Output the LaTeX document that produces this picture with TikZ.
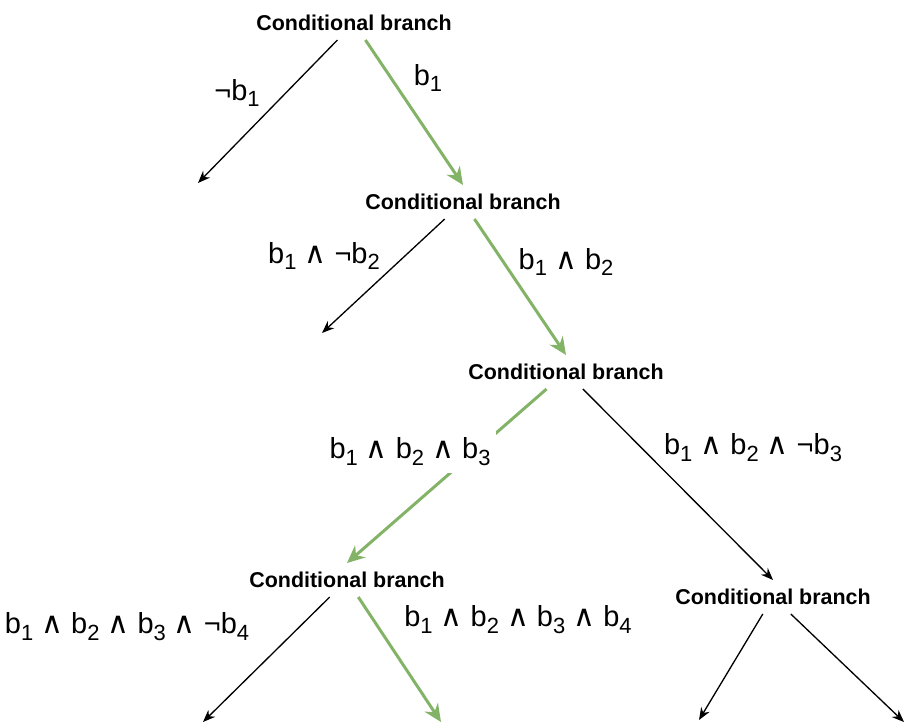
\documentclass[tikz,border=0pt]{standalone}
\usepackage{fontspec}
\setmainfont{Liberation Sans}
\newfontfamily\symfam{DejaVu Sans}
\usepackage{tikz}
\usetikzlibrary{arrows.meta}
\definecolor{takengreen}{RGB}{130,179,102}
\newcommand{\idx}[1]{\raisebox{-0.45ex}{\fontsize{12.5}{12.5}\selectfont #1}}
\newcommand{\AND}{{\symfam\fontsize{17}{17}\selectfont ∧}}

\begin{document}
\begin{tikzpicture}[
    cond/.style={font=\fontsize{12.2}{13}\selectfont\bfseries, inner sep=5pt},
    lbl/.style={font=\fontsize{16.5}{17}\selectfont, inner sep=1pt},
    edge/.style={draw=black, line width=0.75pt, -{Stealth[length=7pt,width=5.5pt]}},
    taken/.style={draw=takengreen, line width=1.7pt, -{Stealth[length=10pt,width=9pt]}}
  ]
  \useasboundingbox (0,0) rectangle (18.08,-14.5);
  % Nodes
  \node[cond] (c1) at (7.08,-0.46) {Conditional branch};
  \node[cond] (c2) at (9.26,-4.04) {Conditional branch};
  \node[cond] (c3) at (11.32,-7.44) {Conditional branch};
  \node[cond] (c4) at (6.94,-11.6) {Conditional branch};
  \node[cond] (c5) at (15.46,-11.94) {Conditional branch};
  % Open ends
  \coordinate (o1) at (3.96,-3.66);
  \coordinate (o2) at (6.44,-6.66);
  \coordinate (o3) at (4.06,-14.44);
  \coordinate (o4) at (8.82,-14.44);
  \coordinate (o5) at (13.98,-14.40);
  \coordinate (o6) at (18.08,-14.44);
  % Edges
  \draw[edge] (c1) -- (o1);
  \draw[taken] (c1) -- (c2.north);
  \draw[edge] (c2) -- (o2);
  \draw[taken] (c2) -- (c3.north);
  \draw[taken] (c3) -- (c4.north);
  \draw[edge] (c3) -- (c5.north);
  \draw[edge] (c4) -- (o3);
  \draw[taken] (c4) -- (o4);
  \draw[edge] (c5) -- (o5);
  \draw[edge] (c5) -- (o6);
  % Labels
  \node[lbl] (l1) at (4.74,-1.86) {¬b\idx{1}};
  \node[lbl] (l2) at (8.56,-1.56) {b\idx{1}};
  \node[lbl] (l3) at (6.48,-5.12) {b\idx{1} \AND{} ¬b\idx{2}};
  \node[lbl] (l4) at (11.32,-5.24) {b\idx{1} \AND{} b\idx{2}};
  \node[lbl, fill=white, inner xsep=3pt, inner ysep=4pt] (l5) at (8.2,-9.04) {b\idx{1} \AND{} b\idx{2} \AND{} b\idx{3}};
  \node[lbl] (l6) at (15.06,-8.96) {b\idx{1} \AND{} b\idx{2} \AND{} ¬b\idx{3}};
  \node[lbl] (l7) at (2.54,-12.54) {b\idx{1} \AND{} b\idx{2} \AND{} b\idx{3} \AND{} ¬b\idx{4}};
  \node[lbl] (l8) at (10.36,-12.4) {b\idx{1} \AND{} b\idx{2} \AND{} b\idx{3} \AND{} b\idx{4}};
\end{tikzpicture}
\end{document}
